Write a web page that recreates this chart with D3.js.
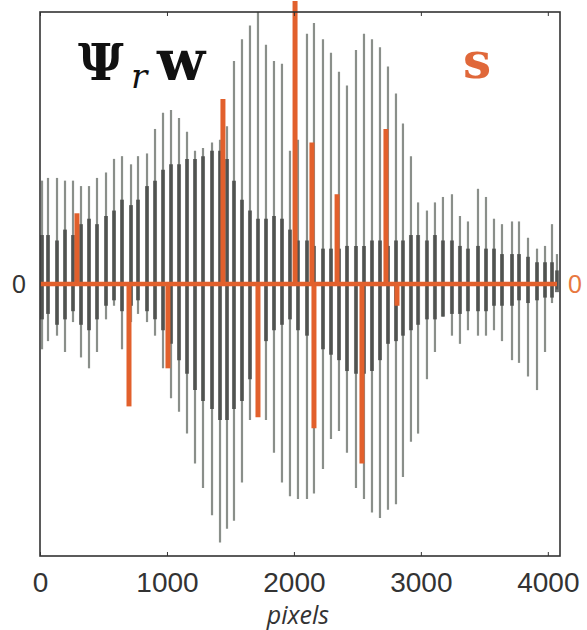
<!DOCTYPE html>
<html>
<head>
<meta charset="utf-8">
<script src="https://cdn.jsdelivr.net/npm/d3@7"></script>
<style>
body { margin: 0; background: #fff; }
</style>
</head>
<body>
<div id="chart"></div>
<script>
// gray signal (Psi_r w): one stroke per row, position in pixels, top / bottom amplitude
var strokePos = [16, 63, 134, 197, 260, 323, 386, 449, 520, 583, 646, 717, 772, 843, 906, 969,
	1032, 1095, 1158, 1221, 1284, 1355, 1418, 1473, 1528, 1591, 1654, 1717, 1780, 1843, 1906, 1969,
	2032, 2103, 2158, 2229, 2292, 2355, 2418, 2489, 2552, 2615, 2678, 2741, 2804, 2859, 2922, 2978,
	3048, 3111, 3174, 3245, 3308, 3371, 3450, 3513, 3576, 3639, 3718, 3773, 3844, 3915, 3978, 4033, 4072];
var strokeHi = [0.38, 0.39, 0.39, 0.38, 0.38, 0.36, 0.36, 0.39, 0.41, 0.46, 0.47, 0.44, 0.47, 0.48, 0.57, 0.63,
	0.64, 0.61, 0.56, 0.49, 0.50, 0.52, 0.53, 0.58, 0.82, 0.90, 0.95, 1.00, 0.88, 0.82, 0.81, 0.49,
	0.53, 0.92, 0.96, 0.90, 0.85, 0.78, 0.73, 0.86, 0.92, 0.90, 0.87, 0.80, 0.70, 0.59, 0.47, 0.30,
	0.27, 0.30, 0.32, 0.33, 0.25, 0.23, 0.35, 0.32, 0.24, 0.22, 0.23, 0.23, 0.17, 0.13, 0.14, 0.22, 0.11];
var strokeLo = [-0.24, -0.21, -0.19, -0.25, -0.14, -0.27, -0.31, -0.25, -0.13, -0.08, -0.24, -0.14, -0.11, -0.14, -0.19, -0.31,
	-0.42, -0.47, -0.55, -0.66, -0.75, -0.85, -0.95, -0.90, -0.87, -0.73, -0.50, -0.48, -0.50, -0.62, -0.73, -0.78,
	-0.79, -0.79, -0.77, -0.68, -0.57, -0.54, -0.62, -0.75, -0.79, -0.84, -0.86, -0.83, -0.81, -0.71, -0.58, -0.55,
	-0.35, -0.25, -0.12, -0.19, -0.22, -0.17, -0.19, -0.19, -0.17, -0.21, -0.28, -0.29, -0.34, -0.39, -0.25, -0.07, -0.02];
// dark dense core of the same signal
var coreHi = [0.18, 0.18, 0.16, 0.20, 0.18, 0.22, 0.24, 0.22, 0.25, 0.27, 0.31, 0.29, 0.31, 0.36, 0.38, 0.42,
	0.44, 0.44, 0.46, 0.46, 0.47, 0.49, 0.49, 0.46, 0.38, 0.31, 0.27, 0.24, 0.24, 0.25, 0.24, 0.20,
	0.16, 0.16, 0.14, 0.13, 0.13, 0.13, 0.14, 0.14, 0.14, 0.16, 0.16, 0.14, 0.16, 0.16, 0.18, 0.18,
	0.16, 0.18, 0.16, 0.16, 0.14, 0.13, 0.14, 0.13, 0.13, 0.11, 0.11, 0.11, 0.10, 0.08, 0.08, 0.08, 0.05];
var coreLo = [-0.13, -0.11, -0.15, -0.13, -0.10, -0.15, -0.17, -0.13, -0.08, -0.06, -0.10, -0.08, -0.06, -0.10, -0.13, -0.17,
	-0.22, -0.28, -0.33, -0.39, -0.43, -0.46, -0.50, -0.50, -0.46, -0.43, -0.35, -0.28, -0.21, -0.17, -0.15, -0.13,
	-0.17, -0.19, -0.22, -0.24, -0.26, -0.28, -0.32, -0.33, -0.33, -0.32, -0.28, -0.22, -0.21, -0.19, -0.17, -0.15,
	-0.13, -0.13, -0.12, -0.11, -0.11, -0.10, -0.10, -0.10, -0.08, -0.08, -0.08, -0.06, -0.07, -0.06, -0.05, -0.05, -0.03];

// sparse orange signal s
var spikePos = [291, 701, 1008, 1441, 1717, 2009, 2142, 2158, 2340, 2536, 2725, 2812];
var spikeVal = [0.26, -0.45, -0.31, 0.68, -0.49, 1.04, 0.52, -0.53, 0.33, -0.66, 0.57, -0.08];

var xTicks = [0, 1000, 2000, 3000, 4000];

var width = 587, height = 630;
var margin = { left: 40, right: 27, top: 12, bottom: 74 };
var orange = "#e2602c";

var svg = d3.select("#chart").append("svg")
	.attr("width", width)
	.attr("height", height);

var x = d3.scaleLinear()
	.domain([0, 4096])
	.range([margin.left, width - margin.right]);

var y = d3.scaleLinear()
	.domain([-1, 1])
	.range([height - margin.bottom, margin.top]);

// gray strokes
var g = svg.append("g");
g.selectAll(".outer")
	.data(strokePos)
	.enter()
	.append("line")
	.attr("x1", function (d) { return x(d); })
	.attr("x2", function (d) { return x(d); })
	.attr("y1", function (d, i) { return y(strokeHi[i]); })
	.attr("y2", function (d, i) { return y(strokeLo[i]); })
	.style("stroke", "#8a8f8a")
	.style("stroke-width", 2.2);

g.selectAll(".core")
	.data(strokePos)
	.enter()
	.append("line")
	.attr("x1", function (d) { return x(d); })
	.attr("x2", function (d) { return x(d); })
	.attr("y1", function (d, i) { return y(coreHi[i]); })
	.attr("y2", function (d, i) { return y(coreLo[i]); })
	.style("stroke", "#3b3d3b")
	.style("stroke-width", 4)
	.style("opacity", 0.72);

// orange zero line + spikes
svg.append("line")
	.attr("x1", x(0))
	.attr("x2", x(4096) - 3)
	.attr("y1", y(0))
	.attr("y2", y(0))
	.style("stroke", orange)
	.style("stroke-width", 4.5);

svg.selectAll(".spike")
	.data(spikePos)
	.enter()
	.append("line")
	.attr("x1", function (d) { return x(d); })
	.attr("x2", function (d) { return x(d); })
	.attr("y1", y(0))
	.attr("y2", function (d, i) { return y(spikeVal[i]); })
	.style("stroke", orange)
	.style("stroke-width", 5);

// frame
svg.append("rect")
	.attr("x", margin.left)
	.attr("y", margin.top)
	.attr("width", width - margin.left - margin.right)
	.attr("height", height - margin.top - margin.bottom)
	.style("fill", "none")
	.style("stroke", "#333")
	.style("stroke-width", 1.6);

// x axis (ticks inward, like matlab)
var xAxis = svg.append("g")
	.attr("transform", "translate(0," + (height - margin.bottom) + ")")
	.call(d3.axisBottom(x).tickValues(xTicks).tickSize(-4).tickPadding(16).tickFormat(d3.format("d")));
xAxis.select(".domain").remove();
xAxis.selectAll("line").style("stroke", "#333");
xAxis.selectAll("text")
	.style("font-family", "Liberation Sans, Arial, sans-serif")
	.style("font-size", "28px")
	.style("fill", "#333");

var xTop = svg.append("g")
	.attr("transform", "translate(0," + margin.top + ")")
	.call(d3.axisTop(x).tickValues(xTicks).tickSize(-4).tickFormat(""));
xTop.select(".domain").remove();
xTop.selectAll("line").style("stroke", "#333");

svg.append("text")
	.attr("x", 298)
	.attr("y", 624)
	.attr("text-anchor", "middle")
	.style("font-family", "Open Sans, sans-serif")
	.style("font-style", "italic")
	.style("font-size", "25px")
	.style("fill", "#333")
	.text("pixels");

// zero labels
svg.append("text")
	.attr("x", 19)
	.attr("y", y(0) + 9)
	.attr("text-anchor", "middle")
	.style("font-family", "Liberation Sans, Arial, sans-serif")
	.style("font-size", "25px")
	.style("fill", "#333")
	.text("0");

svg.append("text")
	.attr("x", 575)
	.attr("y", y(0) + 9)
	.attr("text-anchor", "middle")
	.style("font-family", "Liberation Sans, Arial, sans-serif")
	.style("font-size", "25px")
	.style("fill", "#e8783f")
	.text("0");

// math labels
svg.append("text")
	.attr("x", 78)
	.attr("y", 80)
	.style("font-family", "DejaVu Serif, serif")
	.style("font-weight", "bold")
	.style("font-size", "50px")
	.style("fill", "#111")
	.text("Ψ");

svg.append("text")
	.attr("x", 131)
	.attr("y", 88)
	.style("font-family", "DejaVu Serif, serif")
	.style("font-style", "italic")
	.style("font-size", "34px")
	.style("fill", "#111")
	.text("r");

svg.append("text")
	.attr("x", 157)
	.attr("y", 80)
	.style("font-family", "DejaVu Serif, serif")
	.style("font-weight", "bold")
	.style("font-size", "56px")
	.style("fill", "#111")
	.text("w");

svg.append("text")
	.attr("x", 463)
	.attr("y", 78)
	.style("font-family", "DejaVu Serif, serif")
	.style("font-weight", "bold")
	.style("font-size", "50px")
	.style("fill", "#e0683a")
	.text("s");
</script>
</body>
</html>
